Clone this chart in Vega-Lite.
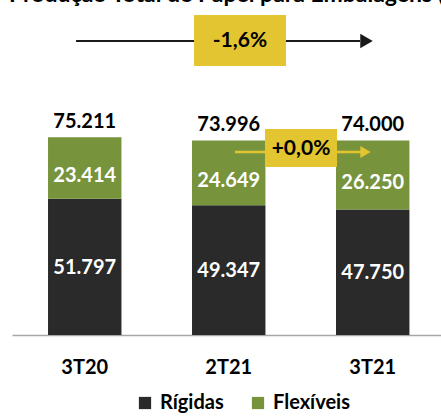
{
  "$schema": "https://vega.github.io/schema/vega-lite/v6.json",
  "width": 429,
  "height": 315,
  "autosize": {"type": "none"},
  "padding": {"left": 12, "top": 20, "right": 0, "bottom": 84},
  "background": "white",
  "config": {
    "view": {"stroke": null},
    "font": "Lato",
    "locale": {"number": {"decimal": ",", "thousands": ".", "grouping": [3], "currency": ["", ""]}}
  },
  "title": {
    "text": "Produção Total de Papel para Embalagens (mil t)",
    "anchor": "start",
    "frame": "group",
    "fontSize": 23,
    "font": "Lato",
    "fontWeight": "bold",
    "color": "#000000",
    "offset": 8,
    "dx": -3
  },
  "datasets": {
    "prod": [
      {"periodo": "3T20", "serie": "Rígidas", "ordem": 1, "valor": 51797},
      {"periodo": "3T20", "serie": "Flexíveis", "ordem": 2, "valor": 23414},
      {"periodo": "2T21", "serie": "Rígidas", "ordem": 1, "valor": 49347},
      {"periodo": "2T21", "serie": "Flexíveis", "ordem": 2, "valor": 24649},
      {"periodo": "3T21", "serie": "Rígidas", "ordem": 1, "valor": 47750},
      {"periodo": "3T21", "serie": "Flexíveis", "ordem": 2, "valor": 26250}
    ],
    "caixas": [
      {"rotulo": "-1,6%", "x0": 1.273, "x1": 1.916, "xm": 1.594, "y0": 102300, "y1": 121700, "ym": 111800},
      {"rotulo": "+0,0%", "x0": 1.769, "x1": 2.273, "xm": 2.021, "y0": 63900, "y1": 78300, "ym": 70700}
    ],
    "setas": [
      {"seta": "anual", "x0": 0.448, "x1": 2.434, "xp": 2.479, "y": 111800},
      {"seta": "trimestral", "x0": 1.559, "x1": 2.448, "xp": 2.472, "y": 69600}
    ]
  },
  "layer": [
    {
      "layer": [
        {
          "data": {"name": "prod"},
          "mark": {"type": "bar"},
          "encoding": {
            "x": {
              "field": "periodo", "type": "nominal", "sort": null,
              "scale": {"paddingInner": 0.49, "paddingOuter": 0.2347, "align": 0.533},
              "axis": {
                "title": null, "labelAngle": 0, "labelFont": "Lato", "labelFontSize": 20,
                "labelFontWeight": "bold", "labelColor": "#000000", "labelPadding": 22,
                "ticks": false, "domainColor": "#a6a6a6", "domainWidth": 1.5, "grid": false
              }
            },
            "y": {"field": "valor", "type": "quantitative", "stack": "zero", "scale": {"domain": [0, 119800], "nice": false}, "axis": null},
            "color": {
              "field": "serie", "type": "nominal",
              "scale": {"domain": ["Rígidas", "Flexíveis"], "range": ["#2a2a2a", "#77933c"]},
              "legend": {
                "title": null, "orient": "none", "legendX": 123, "legendY": 373,
                "direction": "horizontal", "symbolType": "square", "symbolSize": 150,
                "symbolStrokeWidth": 0, "labelFont": "Lato", "labelFontSize": 20,
                "labelFontWeight": "bold", "labelColor": "#000000", "labelOffset": 5,
                "columnPadding": 24
              }
            },
            "order": {"field": "ordem"}
          }
        },
        {
          "data": {"name": "prod"},
          "transform": [
            {"stack": "valor", "groupby": ["periodo"], "sort": [{"field": "ordem"}], "as": ["v0", "v1"]},
            {"filter": {"field": "serie", "equal": "Rígidas"}},
            {"fold": ["v0", "v1"], "as": ["k", "pos"]}
          ],
          "mark": {"type": "text", "color": "#ffffff", "fontSize": 20, "fontWeight": "bold", "font": "Lato", "baseline": "middle", "dy": 1},
          "encoding": {
            "x": {"field": "periodo", "type": "nominal", "sort": null},
            "y": {"aggregate": "mean", "field": "pos", "type": "quantitative"},
            "text": {"field": "valor", "type": "quantitative", "format": ",d"},
            "detail": {"field": "serie"}
          }
        },
        {
          "data": {"name": "prod"},
          "transform": [
            {"stack": "valor", "groupby": ["periodo"], "sort": [{"field": "ordem"}], "as": ["v0", "v1"]},
            {"filter": {"field": "serie", "equal": "Flexíveis"}},
            {"fold": ["v0", "v1"], "as": ["k", "pos"]}
          ],
          "mark": {"type": "text", "color": "#ffffff", "fontSize": 20, "fontWeight": "bold", "font": "Lato", "baseline": "middle", "dy": 8},
          "encoding": {
            "x": {"field": "periodo", "type": "nominal", "sort": null},
            "y": {"aggregate": "mean", "field": "pos", "type": "quantitative"},
            "text": {"field": "valor", "type": "quantitative", "format": ",d"},
            "detail": {"field": "serie"}
          }
        },
        {
          "data": {"name": "prod"},
          "mark": {"type": "text", "color": "#000000", "fontSize": 20, "fontWeight": "bold", "font": "Lato", "baseline": "alphabetic", "dy": -9},
          "encoding": {
            "x": {"field": "periodo", "type": "nominal", "sort": null},
            "y": {"aggregate": "sum", "field": "valor", "type": "quantitative"},
            "text": {"aggregate": "sum", "field": "valor", "type": "quantitative", "format": ",d"}
          }
        }
      ]
    },
    {
      "layer": [
        {
          "data": {"name": "setas"},
          "transform": [{"filter": {"field": "seta", "equal": "anual"}}],
          "mark": {"type": "rule", "color": "#1a1a1a", "strokeWidth": 2},
          "encoding": {
            "x": {"field": "x0", "type": "quantitative", "scale": {"domain": [0, 3], "nice": false, "zero": false}, "axis": null},
            "x2": {"field": "x1"},
            "y": {"field": "y", "type": "quantitative"}
          }
        },
        {
          "data": {"name": "setas"},
          "transform": [{"filter": {"field": "seta", "equal": "anual"}}],
          "mark": {"type": "point", "shape": "triangle-right", "filled": true, "size": 210, "color": "#1a1a1a", "opacity": 1},
          "encoding": {
            "x": {"field": "xp", "type": "quantitative"},
            "y": {"field": "y", "type": "quantitative"}
          }
        },
        {
          "data": {"name": "setas"},
          "transform": [{"filter": {"field": "seta", "equal": "trimestral"}}],
          "mark": {"type": "rule", "color": "#e2c530", "strokeWidth": 2.5},
          "encoding": {
            "x": {"field": "x0", "type": "quantitative"},
            "x2": {"field": "x1"},
            "y": {"field": "y", "type": "quantitative"}
          }
        },
        {
          "data": {"name": "setas"},
          "transform": [{"filter": {"field": "seta", "equal": "trimestral"}}],
          "mark": {"type": "point", "shape": "triangle-right", "filled": true, "size": 144, "color": "#e2c530", "opacity": 1},
          "encoding": {
            "x": {"field": "xp", "type": "quantitative"},
            "y": {"field": "y", "type": "quantitative"}
          }
        },
        {
          "data": {"name": "caixas"},
          "mark": {"type": "rect", "color": "#e2c530"},
          "encoding": {
            "x": {"field": "x0", "type": "quantitative"},
            "x2": {"field": "x1"},
            "y": {"field": "y0", "type": "quantitative"},
            "y2": {"field": "y1"}
          }
        },
        {
          "data": {"name": "caixas"},
          "mark": {"type": "text", "color": "#000000", "fontSize": 21, "fontWeight": "bold", "font": "Lato", "baseline": "middle"},
          "encoding": {
            "x": {"field": "xm", "type": "quantitative"},
            "y": {"field": "ym", "type": "quantitative"},
            "text": {"field": "rotulo"}
          }
        }
      ]
    }
  ],
  "resolve": {"scale": {"x": "independent"}}
}
